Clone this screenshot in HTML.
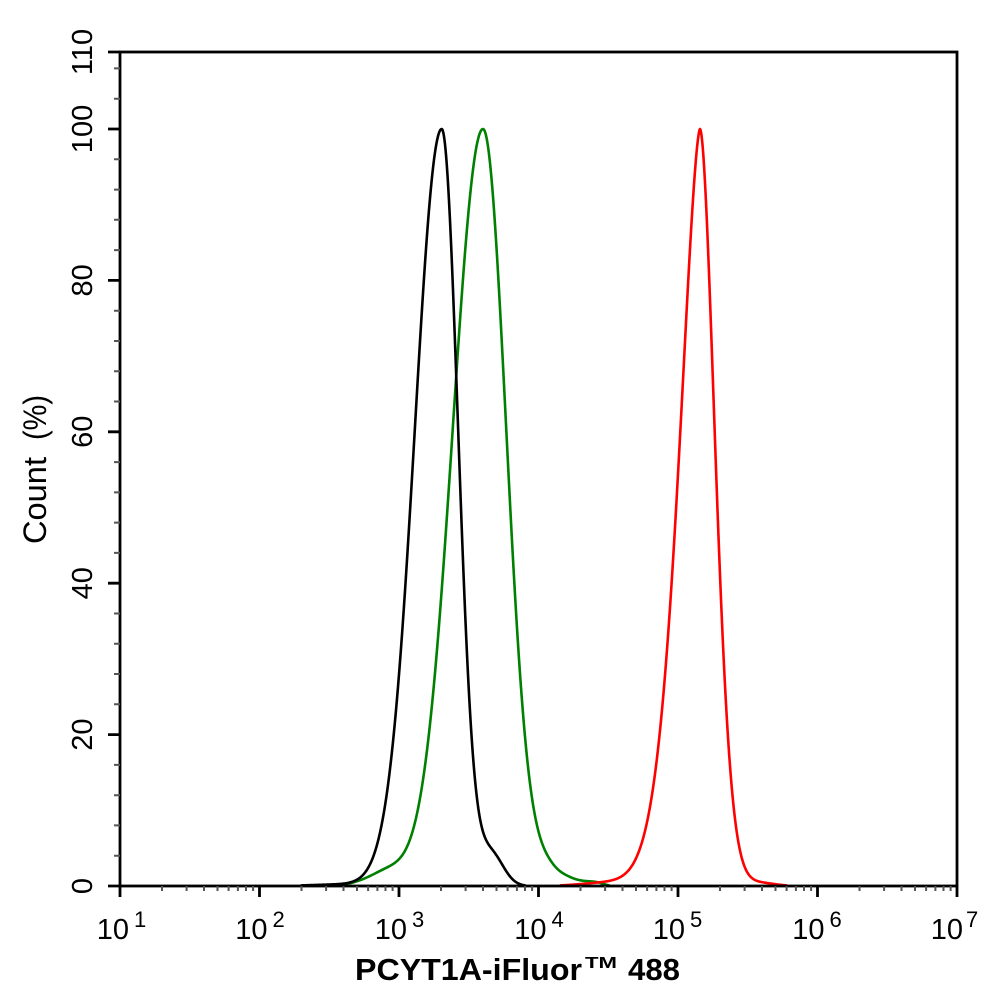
<!DOCTYPE html>
<html><head><meta charset="utf-8"><style>
html,body{margin:0;padding:0;background:#fff;}
svg{display:block;}
text{font-family:"Liberation Sans",Arial,sans-serif;fill:#000;}
</style></head><body>
<svg id="chart" width="994" height="1002" viewBox="0 0 994 1002" xmlns="http://www.w3.org/2000/svg">
<rect width="994" height="1002" fill="#fff"/>
<!-- curves (fallback polylines; replaced by smooth model curves via script) -->
<g id="curves" fill="none" stroke-width="2.6" stroke-linejoin="round" stroke-linecap="round">
<polyline stroke="#008000" points="330,886 345,885.5 356,884.5 366.7,881.7 375,878 383,873 391,867 398.3,860 404,845 410,830 418.3,800 426.7,747 436,700 441,600 448,505 455,410 466.7,310 474,210 478.3,160 481,140 483,129.5 485.5,133 489.3,160 495,210 501.7,310 508.3,410 512.5,505 516.7,600 521.7,700 526.7,747 531.7,800 538.3,833 543,850 548.3,863 553,871 558.3,876.7 563,879 570,880.5 580,881.5 590,882.5 600,884 620,885.5 640,886"/>
<polyline stroke="#000000" points="300,886 330,885.5 345,884.5 355,882.5 360,880 367,875 373,867 377,850 380,830 385,800 393,747 397,700 404,600 409,505 414,410 421.7,310 430,210 436,160 439,140 441.7,129.5 444,135 446.7,160 450,210 454,310 459.3,410 462.5,505 465.7,600 469,700 471.7,747 476.7,800 480,820 483.3,830 489,840 495,850 503,867 508,876 511.7,880 516,883.5 520,885.3 530,886"/>
<polyline stroke="#ff0000" points="540,886 560,885.5 580,884 590,883 600,881.7 610,880 620,876.7 626,872 631.7,866.7 640,850 646.7,833 650,816.7 656,766.7 662.7,700 668.3,633 671.7,566.7 675.7,500 682.7,400 686.5,335 690,270 693.5,205 696.7,143 700,128.5 704,143 705.7,205 707.3,270 710.3,335 713.3,400 717.3,500 720,566.7 723.3,633 726.7,700 730,766.7 733.3,816.7 735,833 737.3,850 741.7,866.7 746.7,876.7 753.3,880 760,882 770,883.3 780,884.5 790,885.5 805,886"/>
</g>
<!-- frame -->
<g stroke="#000" fill="none">
<rect x="120" y="52" width="837" height="834" stroke-width="2.8"/>
<path stroke-width="2.8" d="M108,886H120M108,734.6H120M108,583.2H120M108,431.8H120M108,280.4H120M108,129H120M108,52H120"/>
<path stroke-width="2.8" d="M120,886V897M259.5,886V897M399,886V897M538.5,886V897M678,886V897M817.5,886V897M957,886V897"/>
</g>
<!-- minor ticks -->
<g stroke="#555" stroke-width="2" fill="none">
<path d="M114,855.7H120M114,825.4H120M114,795.2H120M114,764.9H120M114,704.3H120M114,674H120M114,643.8H120M114,613.5H120M114,552.9H120M114,522.6H120M114,492.4H120M114,462.1H120M114,401.5H120M114,371.2H120M114,341H120M114,310.7H120M114,250.1H120M114,219.8H120M114,189.6H120M114,159.3H120M114,98.7H120M114,68.4H120"/>
<path d="M162,886v5M186.6,886v5M204,886v5M217.5,886v5M228.6,886v5M237.9,886v5M246,886v5M253.1,886v5
M301.5,886v5M326.1,886v5M343.5,886v5M357,886v5M368.1,886v5M377.4,886v5M385.5,886v5M392.6,886v5
M441,886v5M465.6,886v5M483,886v5M496.5,886v5M507.6,886v5M516.9,886v5M525,886v5M532.1,886v5
M580.5,886v5M605.1,886v5M622.5,886v5M636,886v5M647.1,886v5M656.4,886v5M664.5,886v5M671.6,886v5
M720,886v5M744.6,886v5M762,886v5M775.5,886v5M786.6,886v5M795.9,886v5M804,886v5M811.1,886v5
M859.5,886v5M884.1,886v5M901.5,886v5M915,886v5M926.1,886v5M935.4,886v5M943.5,886v5M950.6,886v5"/>
</g>
<!-- y tick labels -->
<g font-size="29" text-anchor="middle">
<text transform="translate(92,886) rotate(-90)">0</text>
<text transform="translate(92,734.6) rotate(-90)">20</text>
<text transform="translate(92,583.2) rotate(-90)">40</text>
<text transform="translate(92,431.8) rotate(-90)">60</text>
<text transform="translate(92,280.4) rotate(-90)">80</text>
<text transform="translate(92,129) rotate(-90)">100</text>
<text transform="translate(92,52) rotate(-90)">110</text>
</g>
<!-- x tick labels -->
<g font-size="29" text-anchor="end">
<text x="129" y="939">10</text>
<text x="267.5" y="939">10</text>
<text x="407" y="939">10</text>
<text x="546.5" y="939">10</text>
<text x="685" y="939">10</text>
<text x="824.5" y="939">10</text>
<text x="963" y="939">10</text>
</g>
<g font-size="22">
<text x="134" y="927">1</text>
<text x="272.5" y="927">2</text>
<text x="412" y="927">3</text>
<text x="551.5" y="927">4</text>
<text x="690" y="927">5</text>
<text x="829.5" y="927">6</text>
<text x="966" y="927">7</text>
</g>
<!-- axis titles -->
<text transform="translate(46,544) rotate(-90)" font-size="32" textLength="87" lengthAdjust="spacingAndGlyphs">Count</text>
<text transform="translate(46,440) rotate(-90)" font-size="32" textLength="45" lengthAdjust="spacingAndGlyphs">(%)</text>
<text x="355" y="980" font-size="31" font-weight="bold" textLength="227" lengthAdjust="spacingAndGlyphs">PCYT1A-iFluor</text>
<text x="585" y="968" font-size="16" font-weight="bold" textLength="32" lengthAdjust="spacingAndGlyphs">TM</text>
<text x="628" y="980" font-size="31" font-weight="bold" textLength="52" lengthAdjust="spacingAndGlyphs">488</text>
</svg>
<script>
(function(){
  var ns="http://www.w3.org/2000/svg";
  function g(d,c,s){var z=(d-c)/s;return Math.exp(-z*z/2);}
  var models=[
    {col:"#008000",f:function(x){var d=x-483;
      if(d<0){return Math.exp(-Math.pow(-d/42.6,2))+0.018*g(d,-95,18)+0.002*g(d,-125,15);}
      return Math.exp(-Math.pow(d/32.7,2))+0.02*g(d,65,14)+0.006*Math.exp(-Math.pow((d-100)/22,4));}},
    {col:"#000000",f:function(x){var d=x-441.7;
      if(d<0){return Math.exp(-Math.pow(-d/37.8,2))+0.002*g(d,-100,30);}
      return Math.exp(-Math.pow(d/23.1,2))+0.04*g(d,50,12);}},
    {col:"#ff0000",f:function(x){var d=x-700;
      if(d<0){return Math.exp(-Math.pow(-d/30,1.6))+0.004*g(d,-95,25);}
      return Math.exp(-Math.pow(d/21.35,1.8))+0.004*g(d,60,15);}}
  ];
  var grp=document.getElementById("curves");
  while(grp.firstChild){grp.removeChild(grp.firstChild);}
  for(var k=0;k<models.length;k++){
    var m=models[k], pts=[];
    for(var x=121;x<=956;x+=0.5){
      var f=m.f(x);
      if(f>0.0008){pts.push([x,886-757*f]);}
    }
    var d="";
    for(var i=0;i<pts.length;i++){d+=(i?"L":"M")+pts[i][0].toFixed(1)+","+pts[i][1].toFixed(2);}
    var p=document.createElementNS(ns,"path");
    p.setAttribute("d",d);
    p.setAttribute("stroke",m.col);
    grp.appendChild(p);
  }
})();
</script>
</body></html>
